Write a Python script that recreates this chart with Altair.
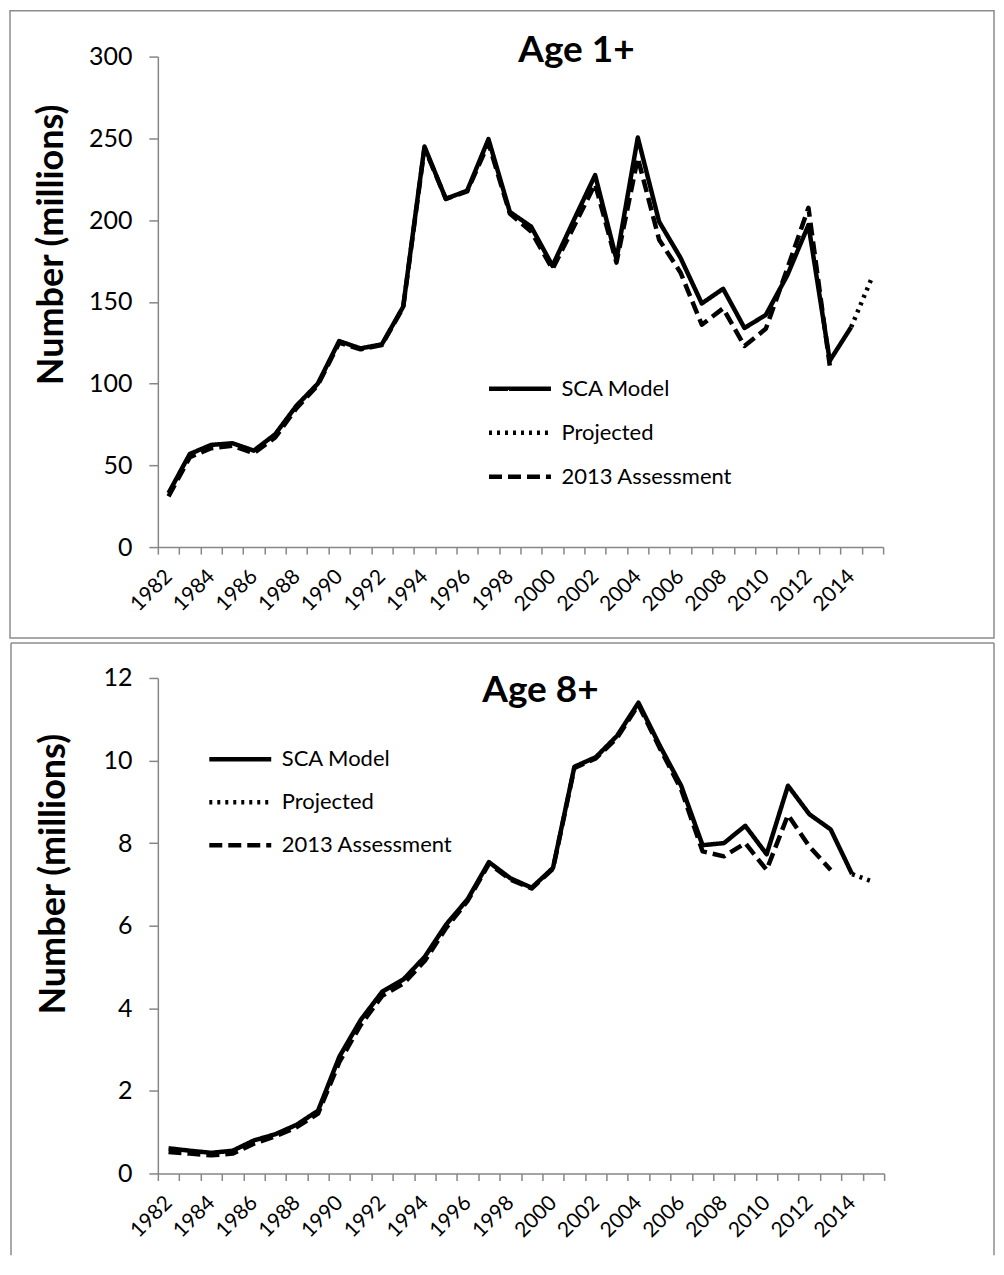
import altair as alt
import pandas as pd

YEARS = [str(y) for y in range(1982, 2016)]
SERIES = ["SCA Model", "Projected", "2013 Assessment"]
DASHES = [[1, 0], [3, 5], [13, 6]]

# Age 1+ (millions)
AGE1_SCA = [33, 57, 62.5, 63.5, 59, 69, 86.5, 100, 126, 121.5, 124, 147, 245, 213, 218,
            249.5, 205, 196, 172, 200, 227.5, 176, 250.5, 199, 177, 149, 158, 134, 142,
            166, 197, 114, 134.5]
AGE1_PROJ_YEARS = ["2014", "2015"]
AGE1_PROJ = [134.5, 165.5]
AGE1_2013 = [31, 55, 60.5, 62, 57.5, 67, 85, 99, 125, 121, 123.5, 146.5, 244, 213, 217.5,
             247, 204, 193, 170, 196, 222, 174, 238, 188, 168, 136, 146, 123, 133.5,
             170, 207.5, 111]

# Age 8+ (millions)
AGE8_SCA = [0.61, 0.55, 0.5, 0.55, 0.8, 0.95, 1.18, 1.52, 2.83, 3.72, 4.4, 4.7, 5.25, 6.03,
            6.64, 7.54, 7.15, 6.92, 7.4, 9.85, 10.08, 10.6, 11.4, 10.36, 9.39, 7.95, 8.0,
            8.42, 7.73, 9.39, 8.7, 8.33, 7.25]
AGE8_PROJ_YEARS = ["2014", "2015"]
AGE8_PROJ = [7.25, 7.06]
AGE8_2013 = [0.52, 0.48, 0.44, 0.48, 0.72, 0.9, 1.12, 1.45, 2.7, 3.6, 4.3, 4.6, 5.15, 5.95,
             6.6, 7.5, 7.12, 6.9, 7.38, 9.82, 10.05, 10.55, 11.35, 10.3, 9.3, 7.8, 7.68,
             8.0, 7.35, 8.68, 7.92, 7.35]

FONT = "Lato"
GRAY = "#868686"
FRAME = "#8c8c8c"
ONE = pd.DataFrame({"k": [0]})


def make_df(sca, proj_years, proj, ass):
    rows = []
    for y, v in zip(YEARS, sca):
        rows.append({"Year": y, "Value": v, "Series": SERIES[0]})
    for y, v in zip(proj_years, proj):
        rows.append({"Year": y, "Value": v, "Series": SERIES[1]})
    for y, v in zip(YEARS, ass):
        rows.append({"Year": y, "Value": v, "Series": SERIES[2]})
    return pd.DataFrame(rows)


def rule(x, x2, y, y2):
    return alt.Chart(ONE).mark_rule(color=FRAME, strokeWidth=1.5).encode(
        x=alt.value(x), x2=alt.value(x2), y=alt.value(y), y2=alt.value(y2))


def panel(df, ymax, ystep, w, h, title, tx, ty, legx, legy, rowpad, ytx, yty, frame_layers):
    ttl = alt.Chart(ONE).mark_text(
        font=FONT, fontSize=37, fontWeight="bold", color="black",
        align="center", baseline="alphabetic",
    ).encode(x=alt.value(tx), y=alt.value(ty), text=alt.value(title))

    lines = alt.Chart(df).mark_line(color="black", strokeWidth=4.5, strokeJoin="round").encode(
        x=alt.X(
            "Year:O",
            bandPosition=0.5,
            scale=alt.Scale(type="band", domain=YEARS, paddingInner=0, paddingOuter=0),
            axis=alt.Axis(
                title=None, tickBand="extent", labelAngle=-45, labelAlign="right",
                labelBaseline="middle", labelFontSize=21, labelFont=FONT, labelColor="black",
                labelPadding=19, tickSize=7, tickColor=GRAY, domainColor=GRAY,
                tickWidth=1.5, domainWidth=1.5, labelOverlap=False, grid=False,
                labelExpr="toNumber(datum.value) % 2 == 0 ? datum.label : ''",
            ),
        ),
        y=alt.Y(
            "Value:Q",
            scale=alt.Scale(domain=[0, ymax], nice=False, zero=True),
            axis=alt.Axis(
                values=list(range(0, ymax + 1, ystep)), title="Number (millions)",
                titleFont=FONT, titleFontSize=36, titleFontWeight="bold", titleColor="black",
                titleX=ytx, titleY=yty, titleAngle=-90, titleAlign="center",
                titleBaseline="bottom",
                labelFont=FONT, labelFontSize=25, labelColor="black",
                labelPadding=17, tickSize=9, tickColor=GRAY, domainColor=GRAY,
                tickWidth=1.5, domainWidth=1.5, grid=False,
            ),
        ),
        strokeDash=alt.StrokeDash(
            "Series:N",
            scale=alt.Scale(domain=SERIES, range=DASHES),
            legend=alt.Legend(
                title=None, orient="none", legendX=legx, legendY=legy,
                symbolType="M-3.1,0H3.1", symbolSize=400, symbolStrokeWidth=4.5,
                symbolStrokeColor="black", symbolFillColor="transparent",
                labelFont=FONT, labelFontSize=22, labelColor="black", labelLimit=0,
                labelOffset=29, rowPadding=rowpad, padding=0,
            ),
        ),
    )

    return alt.layer(*frame_layers, lines, ttl).properties(width=w, height=h)


top_frame = [
    alt.Chart(ONE).mark_rect(fill="white", fillOpacity=0, stroke=FRAME, strokeWidth=1.5).encode(
        x=alt.value(-148), x2=alt.value(837), y=alt.value(-46), y2=alt.value(582))
]
bottom_frame = [
    rule(-147, -147, -35, 578),
    rule(-147, 837, -35, -35),
    rule(837, 837, -35, 578),
]

top = panel(make_df(AGE1_SCA, AGE1_PROJ_YEARS, AGE1_PROJ, AGE1_2013), 300, 50, 726, 491,
            "Age 1+", 419, 5, 350, 320, 20, -87, 188, top_frame)
bottom = panel(make_df(AGE8_SCA, AGE8_PROJ_YEARS, AGE8_PROJ, AGE8_2013), 12, 2, 727, 496,
               "Age 8+", 383, 24, 70, 69, 19, -85, 196, bottom_frame)

chart = alt.concat(top, bottom, columns=1, spacing=1).properties(
    padding=0, background="white"
).resolve_scale(strokeDash="independent").resolve_legend(
    strokeDash="independent"
).configure_view(stroke="transparent")

chart.save("out.html", embed_options={"renderer": "svg", "actions": False})
